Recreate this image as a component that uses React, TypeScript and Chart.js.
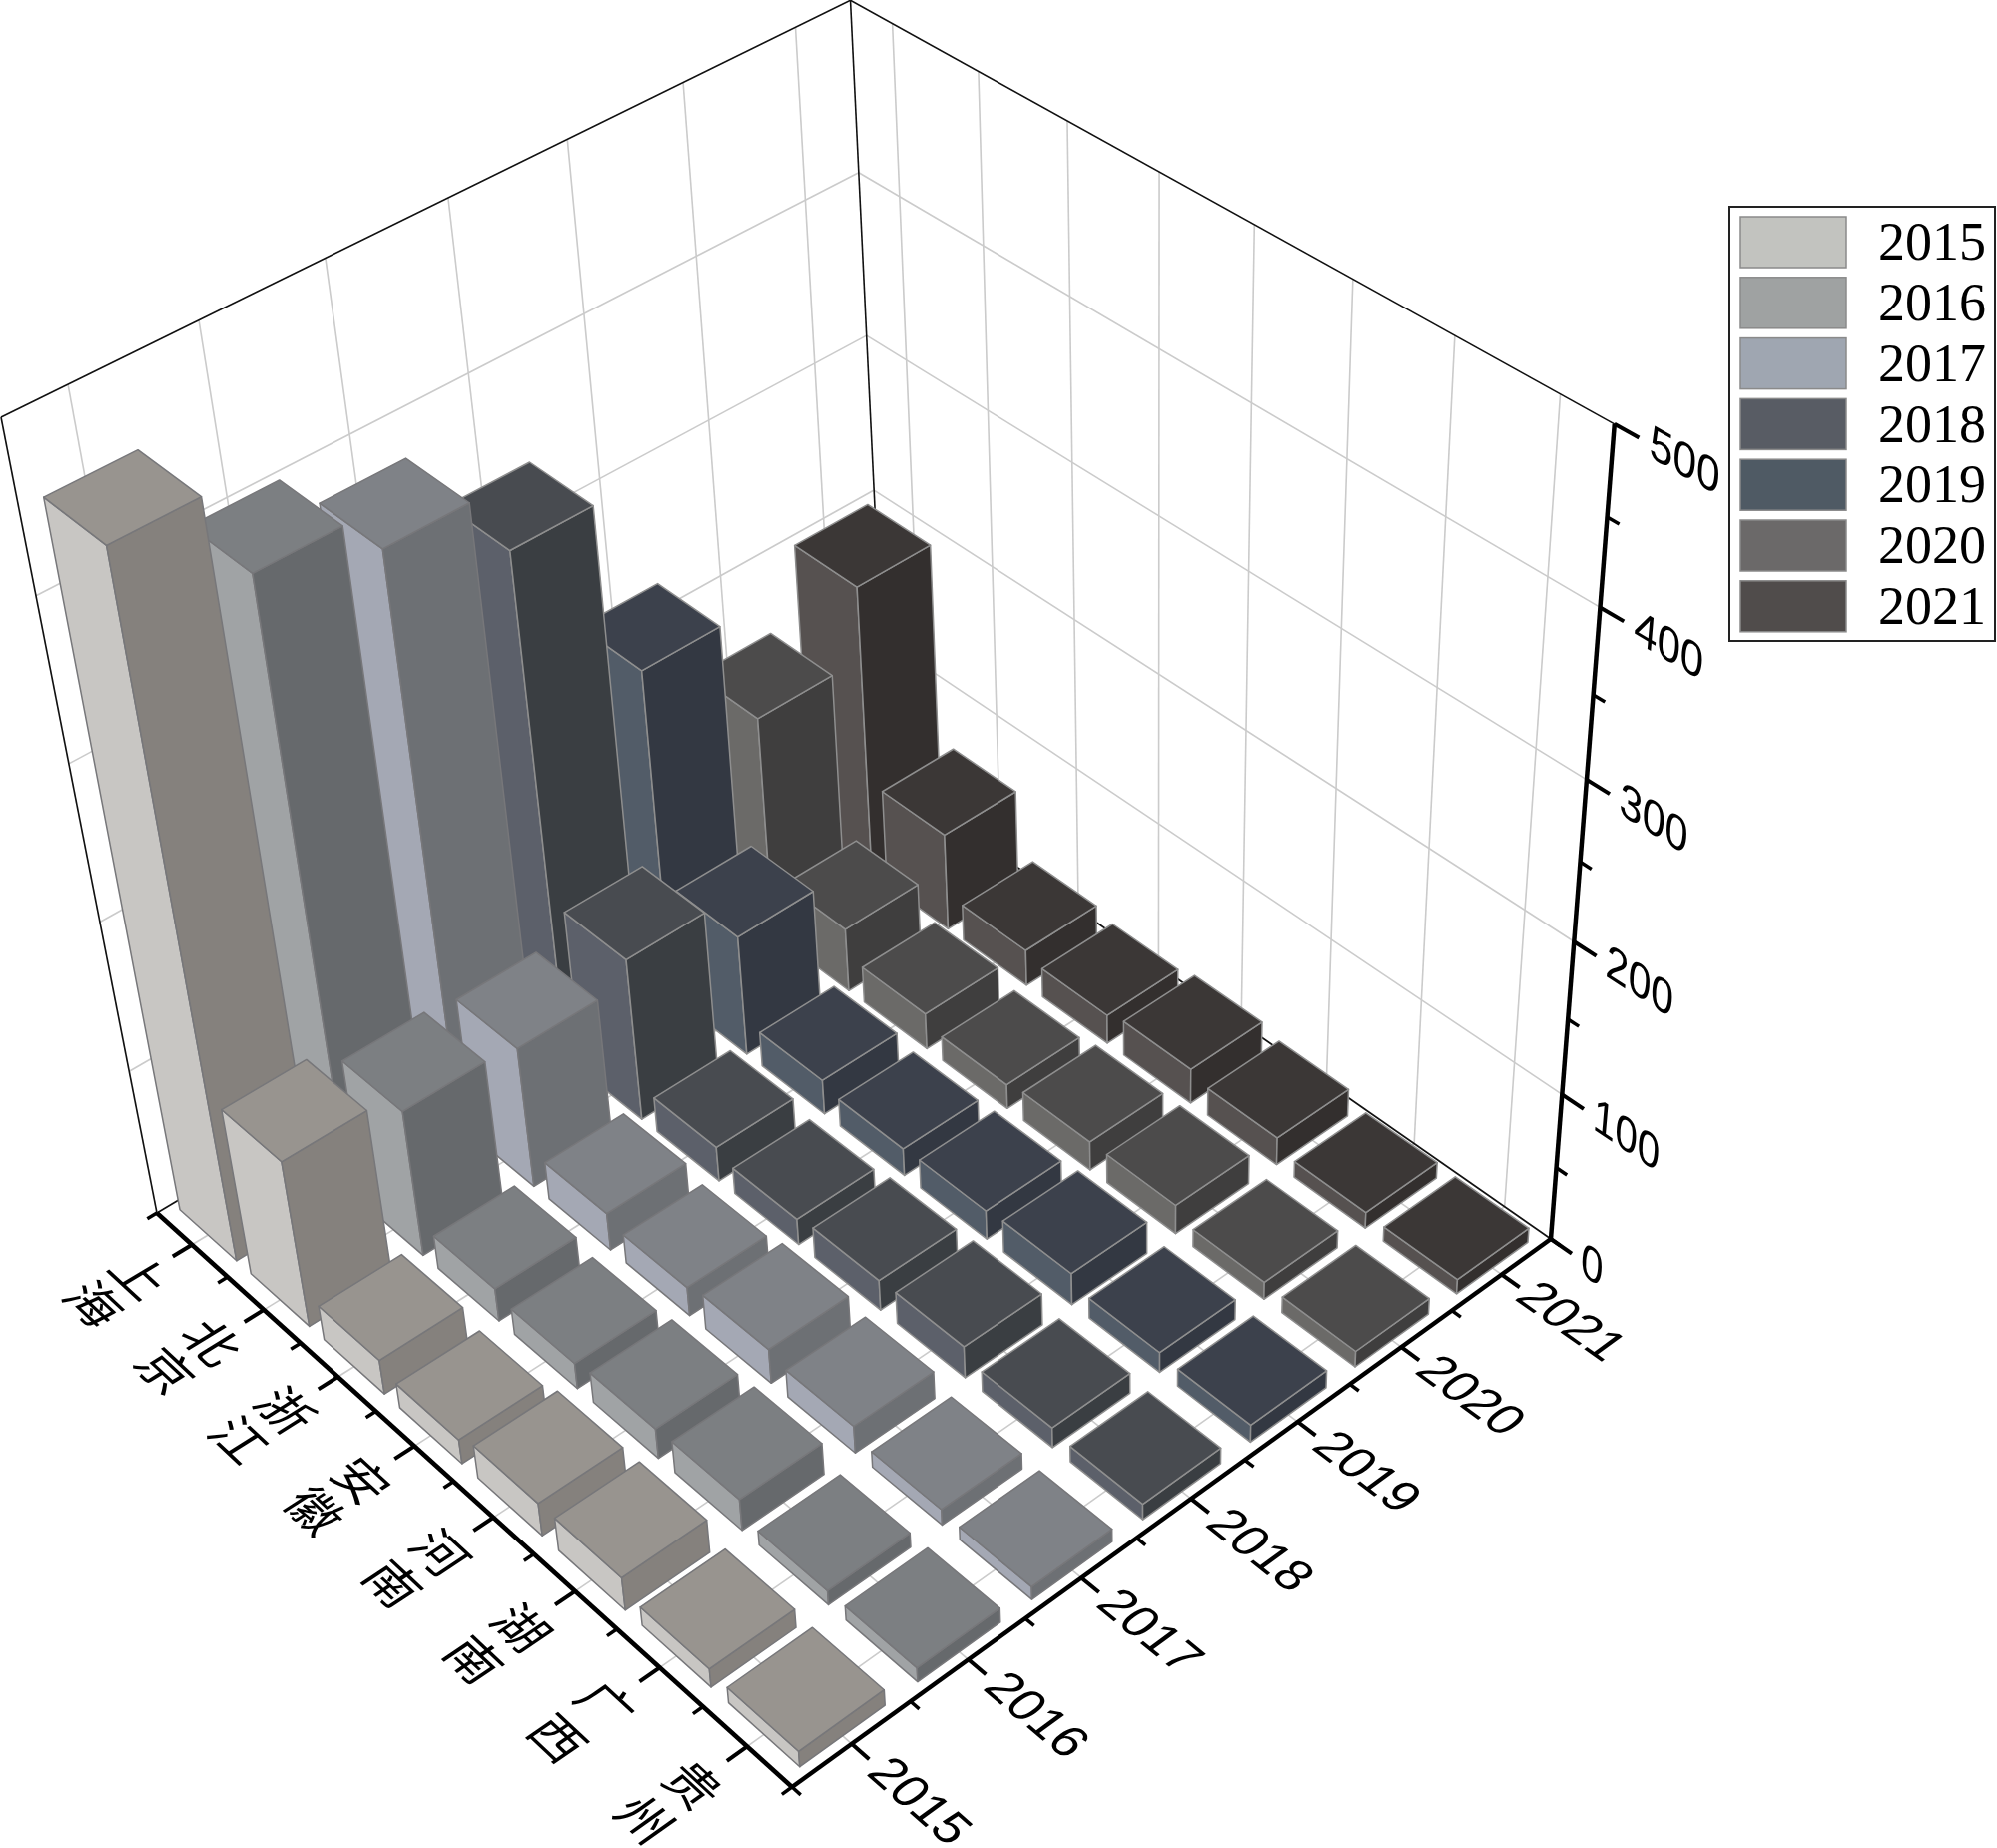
import React, { useEffect, useRef } from "react";
import { Chart, registerables, BarController } from "chart.js";

const provinces = ["上海", "北京", "浙江", "安徽", "河南", "湖南", "广西", "贵州"];
const years = ["2015", "2016", "2017", "2018", "2019", "2020", "2021"];
const values2015 = [454, 115, 24, 17, 23, 23, 13, 11];
const values2016 = [400, 101, 23, 18, 21, 22, 10, 10];
const values2017 = [376, 97, 26, 20, 24, 19, 11, 9];
const values2018 = [337, 112, 24, 18, 21, 22, 14, 11];
const values2019 = [223, 83, 24, 19, 20, 22, 14, 12];
const values2020 = [151, 44, 25, 17, 20, 20, 12, 11];
const values2021 = [199, 67, 25, 20, 24, 19, 11, 10];
const seriesValues = [values2015, values2016, values2017, values2018, values2019, values2020, values2021];
const legendColors = ["#c2c3bf", "#9fa2a2", "#9fa6b1", "#585c64", "#4f5a64", "#6b6969", "#504c4b"];
const leftColors = ["#c8c6c3", "#a0a3a5", "#a4a8b4", "#5c606a", "#525c68", "#6b6a68", "#565150"];
const rightColors = ["#85817d", "#66696c", "#6d7074", "#3a3e42", "#333842", "#3f3e3e", "#332f2e"];
const topColors = ["#98948f", "#7c7f82", "#7f8287", "#484b50", "#3c414c", "#4c4b4b", "#3b3736"];

// Camera calibration of the box
const L = [157, 1215], F = [793, 1790], R = [1553, 1241], B = [889, 778];
const TL = [1, 418], TB = [851, 2], TR = [1617, 423];
const VP = [1156, 6319];

function makeProjection() {
  const dx1 = F[0] - R[0], dx2 = B[0] - R[0], sx = L[0] - F[0] + R[0] - B[0];
  const dy1 = F[1] - R[1], dy2 = B[1] - R[1], sy = L[1] - F[1] + R[1] - B[1];
  const den = dx1 * dy2 - dx2 * dy1;
  const g = (sx * dy2 - dx2 * sy) / den;
  const h = (dx1 * sy - sx * dy1) / den;
  const a = F[0] - L[0] + g * F[0], b = B[0] - L[0] + h * B[0], c = L[0];
  const d = F[1] - L[1] + g * F[1], e = B[1] - L[1] + h * B[1], f = L[1];
  const hom = (u: number, v: number) => [a * u + b * v + c, d * u + e * v + f, g * u + h * v + 1];
  const kOf = (u: number, v: number, y: number) => {
    const [, Y, W] = hom(u, v);
    return (Y - y * W) / (y - VP[1]);
  };
  const k = (kOf(0, 0, TL[1]) + kOf(0, 1, TB[1]) + kOf(1, 1, TR[1])) / 3;
  return (u: number, v: number, z: number) => {
    const [X, Y, W] = hom(u, v);
    const w = W + z * k;
    return { x: (X + z * k * VP[0]) / w, y: (Y + z * k * VP[1]) / w };
  };
}
const project = makeProjection();

const dec = (s: any, v: number) => s.getDecimalForPixel(s.getPixelForValue(v));

function poly(ctx: CanvasRenderingContext2D, pts: { x: number; y: number }[], fill: string, stroke: string, lw: number) {
  ctx.beginPath();
  pts.forEach((p, i) => (i ? ctx.lineTo(p.x, p.y) : ctx.moveTo(p.x, p.y)));
  ctx.closePath();
  ctx.fillStyle = fill;
  ctx.fill();
  ctx.strokeStyle = stroke;
  ctx.lineWidth = lw;
  ctx.lineJoin = "round";
  ctx.stroke();
}

function seg(ctx: CanvasRenderingContext2D, a: { x: number; y: number }, b: { x: number; y: number }, color: string, lw: number) {
  ctx.beginPath();
  ctx.moveTo(a.x, a.y);
  ctx.lineTo(b.x, b.y);
  ctx.strokeStyle = color;
  ctx.lineWidth = lw;
  ctx.lineCap = "butt";
  ctx.stroke();
}

class Bar3DController extends BarController {
  static id = "bar3d";
  static defaults = BarController.defaults;
  static overrides = BarController.overrides;
  draw() {
    const chart = this.chart as any;
    const ctx: CanvasRenderingContext2D = chart.ctx;
    const xs = chart.scales.x, ys = chart.scales.y, yr = chart.scales.year;
    const ds: any = this.getDataset();
    const hu = (0.8 / provinces.length) / 2;
    const hv = (0.72 / years.length) / 2;
    const vc = dec(yr, this.index);
    const n = (ds.data as number[]).length;
    for (let i = 0; i < n; i++) {
      const uc = dec(xs, i);
      const z = dec(ys, (this.getParsed(i) as any).y);
      const a = project(uc - hu, vc - hv, 0), b = project(uc + hu, vc - hv, 0), c = project(uc + hu, vc + hv, 0);
      const a2 = project(uc - hu, vc - hv, z), b2 = project(uc + hu, vc - hv, z), c2 = project(uc + hu, vc + hv, z), d2 = project(uc - hu, vc + hv, z);
      const edge = ds.edgeColor;
      poly(ctx, [a, b, b2, a2], ds.backgroundColor, edge, 1.5);
      poly(ctx, [b, c, c2, b2], ds.sideColor, edge, 1.5);
      poly(ctx, [a2, b2, c2, d2], ds.topColor, edge, 1.5);
    }
  }
}

function glyph(ctx: CanvasRenderingContext2D, text: string, at: { x: number; y: number }, ex: { x: number; y: number }, eUp: { x: number; y: number }, font: string, align: CanvasTextAlign) {
  const nx = Math.hypot(ex.x - at.x, ex.y - at.y), nu = Math.hypot(eUp.x - at.x, eUp.y - at.y);
  ctx.save();
  ctx.transform((ex.x - at.x) / nx, (ex.y - at.y) / nx, -(eUp.x - at.x) / nu, -(eUp.y - at.y) / nu, at.x, at.y);
  ctx.font = font;
  ctx.fillStyle = "#000";
  ctx.textAlign = align;
  ctx.textBaseline = "middle";
  ctx.fillText(text, 0, 0);
  ctx.restore();
}

const GRID = "#cbcbcb";
const box3d = {
  id: "box3d",
  beforeDatasetsDraw(chart: any) {
    const ctx: CanvasRenderingContext2D = chart.ctx;
    const xs = chart.scales.x, ys = chart.scales.y, yr = chart.scales.year;
    const uTicks = provinces.map((_, i) => dec(xs, i));
    const vTicks = years.map((_, i) => dec(yr, i));
    const zTicks = ys.ticks.map((t: any) => ({ v: t.value, d: dec(ys, t.value) }));
    // floor grid
    uTicks.forEach((u) => seg(ctx, project(u, 0, 0), project(u, 1, 0), GRID, 1.6));
    vTicks.forEach((v) => seg(ctx, project(0, v, 0), project(1, v, 0), GRID, 1.6));
    // wall grids
    uTicks.forEach((u) => seg(ctx, project(u, 1, 0), project(u, 1, 1), GRID, 1.6));
    vTicks.forEach((v) => seg(ctx, project(0, v, 0), project(0, v, 1), GRID, 1.6));
    zTicks.forEach((t: any) => {
      if (t.d > 0 && t.d < 1) {
        seg(ctx, project(0, 0, t.d), project(0, 1, t.d), GRID, 1.6);
        seg(ctx, project(0, 1, t.d), project(1, 1, t.d), GRID, 1.6);
      }
    });
    // thin frame
    const K = "#111";
    seg(ctx, project(0, 0, 0), project(0, 0, 1), K, 1.6);
    seg(ctx, project(0, 1, 0), project(0, 1, 1), K, 1.6);
    seg(ctx, project(0, 0, 1), project(0, 1, 1), K, 1.6);
    seg(ctx, project(0, 1, 1), project(1, 1, 1), K, 1.6);
    seg(ctx, project(0, 0, 0), project(0, 1, 0), K, 1.6);
    seg(ctx, project(0, 1, 0), project(1, 1, 0), K, 1.6);
    // thick axes
    seg(ctx, project(0, 0, 0), project(1, 0, 0), "#000", 4.5);
    seg(ctx, project(1, 0, 0), project(1, 1, 0), "#000", 4.5);
    seg(ctx, project(1, 1, 0), project(1, 1, 1), "#000", 4.5);
    // ticks on province axis
    const nU = provinces.length, nV = years.length;
    for (let i = 0; i <= nU; i++) {
      const u = i / nU;
      seg(ctx, project(u, 0, 0), project(u, -0.012, 0), "#000", 3.5);
    }
    uTicks.forEach((u) => seg(ctx, project(u, 0, 0), project(u, -0.024, 0), "#000", 4));
    for (let i = 0; i <= nV; i++) {
      const v = i / nV;
      seg(ctx, project(1, v, 0), project(1.012, v, 0), "#000", 3.5);
    }
    vTicks.forEach((v) => seg(ctx, project(1, v, 0), project(1.024, v, 0), "#000", 4));
    zTicks.forEach((t: any) => {
      seg(ctx, project(1, 1, t.d), project(1.028, 1, t.d), "#000", 4);
      const next = dec(ys, t.v + 50);
      if (t.d < 1) seg(ctx, project(1, 1, next), project(1.014, 1, next), "#000", 3.5);
    });
    // labels
    provinces.forEach((name, i) => {
      const u = uTicks[i];
      [...name].forEach((ch, j) => {
        const v = -0.064 - j * 0.056;
        glyph(ctx, ch, project(u, v, 0), project(u + 0.01, v, 0), project(u, v + 0.01, 0), '50px "Noto Sans CJK SC"', "center");
      });
    });
    years.forEach((name, i) => {
      const v = vTicks[i];
      const u = 1.09;
      glyph(ctx, name, project(u, v, 0), project(u + 0.01, v, 0), project(u, v + 0.01, 0), '50px "Liberation Sans"', "center");
    });
    zTicks.forEach((t: any) => {
      const u = 1.04;
      glyph(ctx, String(t.v), project(u, 1, t.d), project(u + 0.01, 1, t.d), project(u, 1, t.d + 0.01), '48px "Liberation Sans"', "left");
    });
    // legend
    ctx.strokeStyle = "#222";
    ctx.lineWidth = 2;
    ctx.strokeRect(1732, 207, 266, 435);
    years.forEach((name, i) => {
      const y = 217 + i * 60.8;
      ctx.fillStyle = legendColors[i];
      ctx.fillRect(1743, y, 106, 51);
      ctx.strokeStyle = "#8a8a8a";
      ctx.lineWidth = 1.5;
      ctx.strokeRect(1743, y, 106, 51);
      ctx.fillStyle = "#000";
      ctx.font = '54px "Liberation Serif"';
      ctx.textAlign = "left";
      ctx.textBaseline = "middle";
      ctx.fillText(name, 1881, y + 29);
    });
  },
};

export default function App() {
  const ref = useRef<HTMLCanvasElement>(null);
  useEffect(() => {
    document.body.style.margin = "0";
    Chart.register(...registerables, Bar3DController);
    const chart = new Chart(ref.current as HTMLCanvasElement, {
      type: "bar3d" as any,
      data: {
        labels: provinces,
        datasets: years.map((label, i) => ({
          label,
          data: seriesValues[i],
          backgroundColor: leftColors[i],
          sideColor: rightColors[i],
          topColor: topColors[i],
          edgeColor: i >= 3 ? "#8e8e8e" : "#77777a",
          clip: false,
        })) as any,
      },
      options: {
        animation: false,
        responsive: false,
        layout: { padding: 0 },
        plugins: { legend: { display: false }, tooltip: { enabled: false }, title: { display: false } },
        scales: {
          x: { type: "category", offset: true, display: false },
          year: { type: "category", axis: "x", labels: years, offset: true, display: false },
          y: { type: "linear", min: 0, max: 500, ticks: { stepSize: 100 }, display: false },
        } as any,
      },
      plugins: [box3d],
    } as any);
    return () => chart.destroy();
  }, []);
  return <canvas ref={ref} width={2000} height={1851} style={{ display: "block", width: 2000, height: 1851 }} />;
}
